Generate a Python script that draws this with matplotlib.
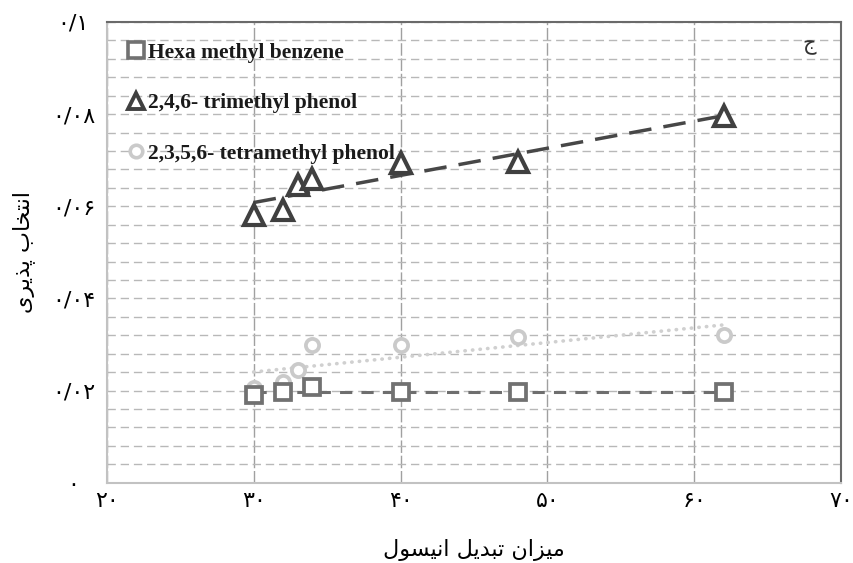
import numpy as np
import matplotlib
matplotlib.use("Agg")
import matplotlib.pyplot as plt
from matplotlib.lines import Line2D

# ---- data ----
x_hmb = [30, 32, 34, 40, 48, 62]
y_hmb = [0.0190, 0.0197, 0.0208, 0.0197, 0.0197, 0.0197]

x_tmp = [30, 32, 33, 34, 40, 48, 62]
y_tmp = [0.0581, 0.0592, 0.0646, 0.0660, 0.0693, 0.0696, 0.0795]

x_ttp = [30, 32, 33, 34, 40, 48, 62]
y_ttp = [0.0205, 0.0219, 0.0244, 0.0299, 0.0299, 0.0317, 0.0320]

series_names = ["Hexa methyl benzene", "2,4,6- trimethyl phenol", "2,3,5,6- tetramethyl phenol"]
x_ticks = [20, 30, 40, 50, 60, 70]
x_ticklabels = ["۲۰", "۳۰", "۴۰", "۵۰", "۶۰", "۷۰"]
y_ticks = [0, 0.02, 0.04, 0.06, 0.08, 0.1]
y_ticklabels = ["۰", "۰/۰۲", "۰/۰۴", "۰/۰۶", "۰/۰۸", "۰/۱"]
panel_label = "ج"


def shape(chars):
    # chars given in logical order as presentation forms; return visual (LTR) order
    return "".join(reversed(chars))

# میزان تبدیل انیسول  (presentation forms, logical order)
xlabel_forms = ["\uFEE3", "\uFEF4", "\uFEB0", "\uFE8D", "\uFEE5", " ",
                "\uFE97", "\uFE92", "\uFEAA", "\uFEF3", "\uFEDE", " ",
                "\uFE8D", "\uFEE7", "\uFEF4", "\uFEB4", "\uFEEE", "\uFEDD"]
# انتخاب پذیری
ylabel_forms = ["\uFE8D", "\uFEE7", "\uFE98", "\uFEA8", "\uFE8E", "\uFE8F", " ",
                "\uFB58", "\uFEAC", "\uFEF3", "\uFEAE", "\uFEEF"]
x_label = shape(xlabel_forms)
y_label = shape(ylabel_forms)

plt.rcParams['font.family'] = ['DejaVu Sans']

fig = plt.figure(figsize=(8.54, 5.63), dpi=100)
ax = fig.add_axes([0.125, 0.1426, 0.86, 0.8184])

ax.set_xlim(20, 70)
ax.set_ylim(0, 0.1)

# grid
ax.set_yticks(y_ticks)
ax.set_yticks(np.arange(0, 0.1001, 0.004), minor=True)
ax.set_xticks(x_ticks)
ax.grid(axis='y', which='both', color='#b8b8b8', linestyle=(0, (6, 3.5)), linewidth=1.0, zorder=0)
ax.grid(axis='x', which='major', color='#a0a0a0', linestyle=(0, (9, 2)), linewidth=1.0, zorder=0)
ax.set_axisbelow(True)

# trendlines (linear fits)
def trend(xs, ys):
    p = np.polyfit(xs, ys, 1)
    xx = np.array([min(xs), max(xs)])
    return xx, np.polyval(p, xx)

tx, ty = trend(x_hmb, y_hmb)
ax.plot(tx, ty, color='#6e6e6e', linewidth=2.2, linestyle=(0, (4, 3)), zorder=2)
tx, ty = trend(x_tmp, y_tmp)
ax.plot(tx, ty, color='#474747', linewidth=2.5, linestyle=(0, (6.5, 3.5)), zorder=2)
tx, ty = trend(x_ttp, y_ttp)
ax.plot(tx, ty, color='#d0d0d0', linewidth=2.6, linestyle=(0, (0.1, 2.0)), dash_capstyle='round', zorder=2)

# markers
ax.plot(x_ttp, y_ttp, linestyle='none', marker='o', markersize=9.5, markerfacecolor='white',
        markeredgecolor='#cacaca', markeredgewidth=2.7, zorder=3)
ax.plot(x_hmb, y_hmb, linestyle='none', marker='s', markersize=12, markerfacecolor='white',
        markeredgecolor='#717171', markeredgewidth=2.7, zorder=4)
ax.plot(x_tmp, y_tmp, linestyle='none', marker='^', markersize=14, markerfacecolor='white',
        markeredgecolor='#404040', markeredgewidth=3.0, zorder=4)

# ticks
ax.set_xticklabels(x_ticklabels, fontsize=16)
ax.set_yticklabels(y_ticklabels, fontsize=16, ha='center')
ax.tick_params(axis='both', which='both', length=0)
ax.tick_params(axis='y', pad=24)
ax.tick_params(axis='x', pad=6)

# spines
for s in ['top', 'right']:
    ax.spines[s].set_color('#6a6a6a')
    ax.spines[s].set_linewidth(1.5)
for s in ['left', 'bottom']:
    ax.spines[s].set_color('#c2c2c2')
    ax.spines[s].set_linewidth(1.5)

ax.set_xlabel(x_label, fontsize=16, labelpad=20)
ax.set_ylabel(y_label, fontsize=16, labelpad=12)

# legend
handles = [
    Line2D([], [], linestyle='none', marker='s', markersize=11, markerfacecolor='white',
           markeredgecolor='#717171', markeredgewidth=2.6),
    Line2D([], [], linestyle='none', marker='^', markersize=12, markerfacecolor='white',
           markeredgecolor='#404040', markeredgewidth=2.8),
    Line2D([], [], linestyle='none', marker='o', markersize=9, markerfacecolor='white',
           markeredgecolor='#cacaca', markeredgewidth=2.6),
]
leg = ax.legend(handles, series_names, loc='upper left', bbox_to_anchor=(0.017, 0.974),
                frameon=False, handlelength=0.8, handletextpad=0.15, labelspacing=1.42,
                borderaxespad=0.0,
                prop={'family': 'Liberation Serif', 'weight': 'bold', 'size': 15.5})
for t in leg.get_texts():
    t.set_color('#1a1a1a')

ax.text(0.956, 0.95, panel_label, transform=ax.transAxes, fontsize=15,
        ha='center', va='center', color='#333333')

fig.savefig("out.png", dpi=100)
